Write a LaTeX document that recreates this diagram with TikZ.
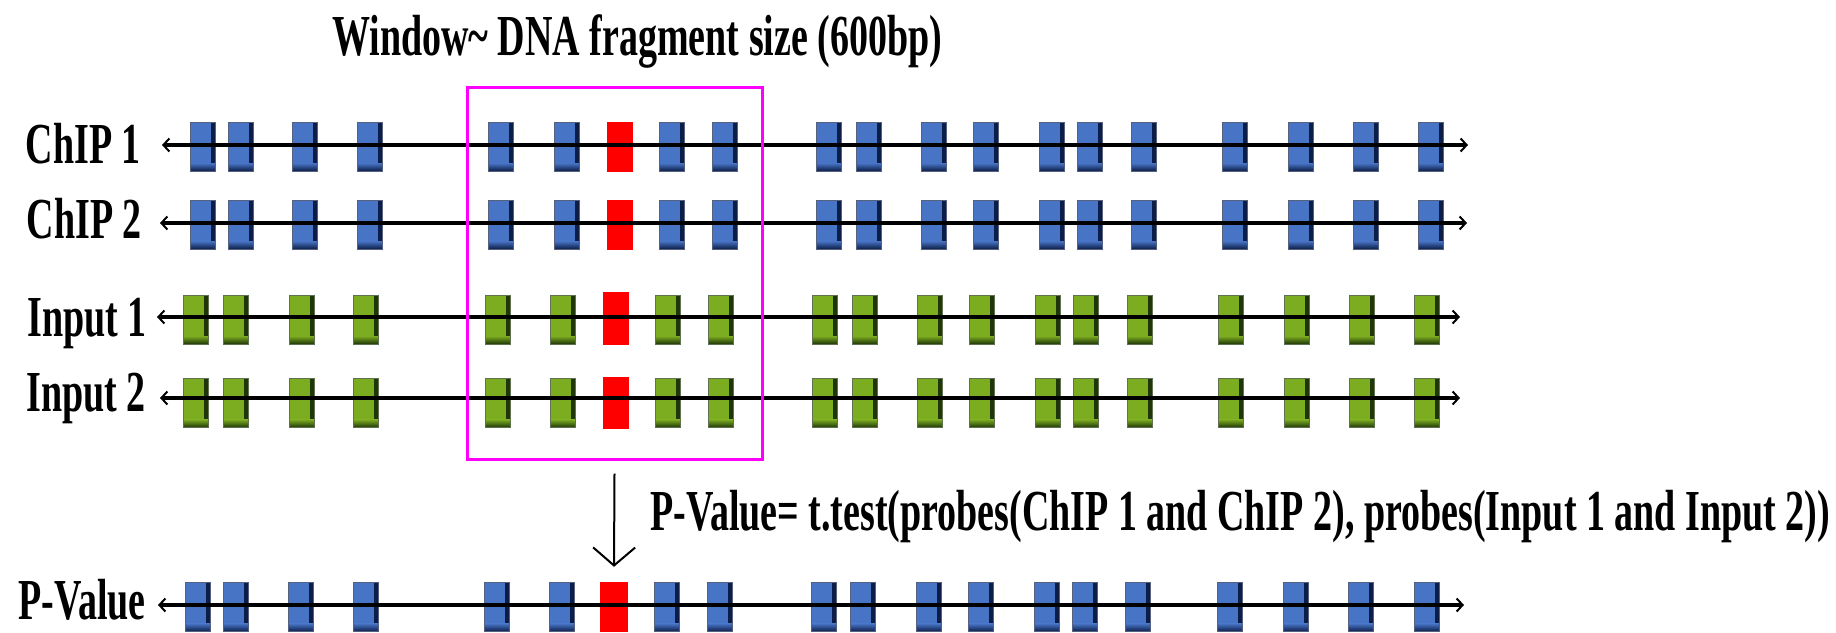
\documentclass[tikz,border=0pt]{standalone}
\usepackage{fontspec}
\setmainfont{Liberation Serif}[FakeStretch=0.655]
\usetikzlibrary{arrows.meta}
\definecolor{pblue}{RGB}{72,116,198}
\definecolor{pbluedark}{RGB}{12,30,72}
\definecolor{pgreen}{RGB}{124,172,32}
\definecolor{pgreendark}{RGB}{30,54,8}
\definecolor{pred}{RGB}{255,0,0}
\definecolor{pmag}{RGB}{255,0,255}
\tikzset{
  probe/.style={rectangle, inner sep=0pt, minimum width=25pt, minimum height=49pt, fill=#1, draw=#1dark!70, line width=0.6pt,
    path picture={
      \fill[#1dark] ([xshift=-4pt]path picture bounding box.north east) rectangle (path picture bounding box.south east);
      \shade[top color=#1, bottom color=#1dark] ([yshift=8pt]path picture bounding box.south west) rectangle (path picture bounding box.south east);
    }},
  hit/.style={rectangle, inner sep=0pt, minimum width=26pt, minimum height=#1, fill=pred},
  rowline/.style={line width=3.4pt, black, {Straight Barb[length=6pt,width=13pt,line width=2pt]}-{Straight Barb[length=6pt,width=13pt,line width=2pt]}},
  lbl/.style={inner sep=0pt, font=\fontsize{58}{64}\selectfont\bfseries},
  windowbox/.style={rectangle, draw=pmag, line width=3pt, inner sep=0pt, minimum width=295pt, minimum height=372pt},
  pvarrow/.style={line width=2pt, -{Straight Barb[length=18pt,width=42pt,line width=2pt]}}
}
\begin{document}
\begin{tikzpicture}[x=1pt,y=-1pt]
\fill[white] (0,0) rectangle (1836,632);
\useasboundingbox (0,0) rectangle (1836,632);

% ChIP 1
\foreach \x [count=\i] in {190,228,292,357,488,554,659,712,816,856,921,973,1039,1077,1131,1222,1288,1353,1418}
  \node[probe=pblue] (ca-\i) at (\x+12.5,146.5) {};
\node[hit=50pt] (ca-red) at (620,147) {};
\coordinate (caL) at (162,145);
\coordinate (caR) at (1468,145);
\draw[rowline] (caL) -- (caR);
\node[lbl, anchor=base east] (caT) at (141,163) {ChIP 1};

% ChIP 2
\foreach \x [count=\i] in {190,228,292,357,488,554,659,712,816,856,921,973,1039,1077,1131,1222,1288,1353,1418}
  \node[probe=pblue] (cb-\i) at (\x+12.5,224.5) {};
\node[hit=50pt] (cb-red) at (620,225) {};
\coordinate (cbL) at (160,223);
\coordinate (cbR) at (1467,223);
\draw[rowline] (cbL) -- (cbR);
\node[lbl, anchor=base east] (cbT) at (142,238) {ChIP 2};

% Input 1
\foreach \x [count=\i] in {183,223,289,353,485,550,655,708,812,852,917,969,1035,1073,1127,1218,1284,1349,1414}
  \node[probe=pgreen] (ia-\i) at (\x+12.5,319.5) {};
\node[hit=53pt] (ia-red) at (615.5,318.5) {};
\coordinate (iaL) at (157,317);
\coordinate (iaR) at (1460,317);
\draw[rowline] (iaL) -- (iaR);
\node[lbl, anchor=base east] (iaT) at (147,336) {Input 1};

% Input 2
\foreach \x [count=\i] in {183,223,289,353,485,550,655,708,812,852,917,969,1035,1073,1127,1218,1284,1349,1414}
  \node[probe=pgreen] (ib-\i) at (\x+12.5,403) {};
\node[hit=52pt] (ib-red) at (615.5,403) {};
\coordinate (ibL) at (160,398);
\coordinate (ibR) at (1460,398);
\draw[rowline] (ibL) -- (ibR);
\node[lbl, anchor=base east] (ibT) at (146,411) {Input 2};

% window
\node[windowbox] (win) at (614.5,273) {};
\node[lbl, anchor=base west] (title) at (332,55) {Window\textasciitilde{} DNA fragment size (600bp)};

% P-Value row
\foreach \x [count=\i] in {185,223,288,353,484,549,654,707,811,850,916,968,1034,1072,1125,1217,1283,1348,1414}
  \node[probe=pblue] (pv-\i) at (\x+12.5,607) {};
\node[hit=50pt, minimum width=28pt] (pv-red) at (614,607) {};
\coordinate (pvL) at (158,605);
\coordinate (pvR) at (1464,605);
\draw[rowline] (pvL) -- (pvR);
\node[lbl, anchor=base east] (pvT) at (146,619) {P-Value};

\draw[pvarrow] ([yshift=-13pt]win.south) -- ([yshift=15pt]pv-red.north);
\node[lbl, anchor=base west] (formula) at (650,530) {P-Value= t.test(probes(ChIP 1 and ChIP 2), probes(Input 1 and Input 2))};
\end{tikzpicture}
\end{document}
